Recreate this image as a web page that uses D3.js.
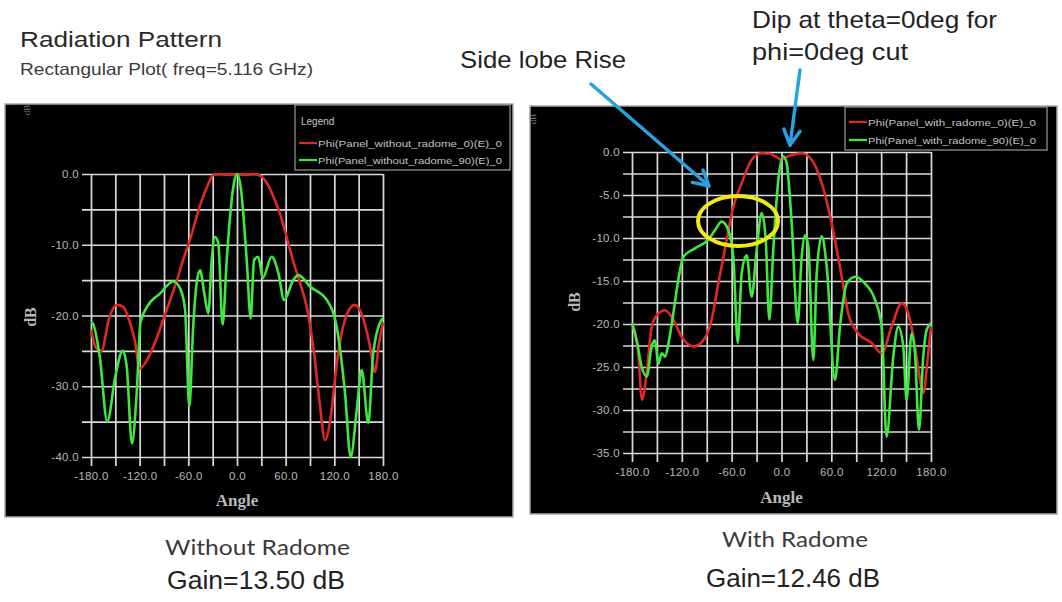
<!DOCTYPE html>
<html>
<head>
<meta charset="utf-8">
<script src="https://cdn.jsdelivr.net/npm/d3@7"></script>
<style>
  body { margin: 0; background: #fff; }
  svg { display: block; }
</style>
</head>
<body>
<div class="chart"></div>
<script>
(function() {
  'use strict';

  const WIDTH = 1062;
  const HEIGHT = 602;

  // Tick values
  const ANGLE_TICKS = [-180, -120, -60, 0, 60, 120, 180];
  const ANGLE_GRID = [-180, -150, -120, -90, -60, -30, 0, 30, 60, 90, 120, 150, 180];
  const LEFT_DB_TICKS = [0, -10, -20, -30, -40];
  const LEFT_DB_GRID = [0, -5, -10, -15, -20, -25, -30, -35, -40];
  const RIGHT_DB_TICKS = [0, -5, -10, -15, -20, -25, -30, -35];
  const RIGHT_DB_GRID = [0, -2.5, -5, -7.5, -10, -12.5, -15, -17.5, -20, -22.5, -25, -27.5, -30, -32.5, -35];

  // Without radome, phi=0 cut (red)
  const LEFT_RED_ANGLE = [-180, -174, -167, -158, -148, -140, -132, -126, -120, -111, -100, -91, -82, -74, -66, -58, -46, -36, -29, -20, -10, 0, 10, 20, 26, 37, 45, 53, 61, 69, 78, 86, 94, 102, 108.5, 115, 123, 129, 135, 145, 155, 164, 170, 175, 180];
  const LEFT_RED_DB = [-22, -24.5, -25, -20.5, -18.5, -18.8, -21, -23.5, -27.5, -26.3, -23.5, -20.6, -17.7, -15, -12, -9.3, -4.6, -1.6, -0.1, 0, -0.1, 0, -0.1, 0, -0.1, -1.3, -3.2, -5.6, -8.8, -12.2, -15.5, -18.8, -24.4, -32.4, -37.6, -34.8, -26.8, -22.5, -20, -18.5, -20.2, -24.4, -28, -24, -21];

  // Without radome, phi=90 cut (green)
  const LEFT_GREEN_ANGLE = [-180, -178, -169, -160, -150, -141, -136, -129.5, -123.7, -119, -111, -95, -78.5, -70, -64, -58.8, -54, -49.7, -45.6, -40.3, -35.4, -31.2, -27.1, -23.1, -17.7, -12.7, -4.5, 0, 4.5, 12, 16.9, 21, 26.3, 31.7, 42.8, 51, 58, 69.4, 75.6, 90, 110.6, 122.9, 133.2, 140.1, 147.6, 153.7, 161.9, 168, 178.4, 180];
  const LEFT_GREEN_DB = [-21, -21.1, -26, -35, -28.6, -25, -27.2, -38.1, -31, -21, -18.8, -16.9, -15.2, -16.2, -19.2, -32.9, -21.6, -15.4, -13.6, -16.9, -19.7, -12.2, -8.9, -9.8, -21.3, -12.2, -1.8, 0, -1.8, -12.2, -20.4, -12.2, -11.7, -14.7, -11.7, -14, -17.8, -15, -14.3, -15.9, -17.8, -21.6, -31, -40, -33.4, -27.7, -35.2, -25.3, -20.6, -20.4];

  // With radome, phi=0 cut (red)
  const RIGHT_RED_ANGLE = [-180, -172.4, -168, -162.3, -156.3, -148.3, -140.3, -130.3, -120.2, -106, -94.2, -84.1, -76.1, -66, -58, -47.9, -35.9, -24, -14, -6, 0, 6, 12.3, 24.3, 36.3, 48.4, 60.4, 72.5, 80.4, 92.5, 108.6, 120.6, 132.6, 144.7, 152.7, 160.7, 166, 171, 176, 180];
  const RIGHT_RED_DB = [-19.9, -23.4, -28.8, -25.7, -20.3, -18.8, -18.4, -19.5, -21.5, -22.6, -21.9, -19.5, -15.3, -10.2, -6.4, -3.6, -0.9, -0.15, -0.2, -0.6, -0.9, -0.6, -0.35, -0.15, -0.9, -3.6, -8.3, -14.5, -18.8, -21.1, -22.2, -23.4, -20.3, -17.6, -18.8, -22.6, -26, -28, -24, -20.3];

  // With radome, phi=90 cut (green)
  const RIGHT_GREEN_ANGLE = [-180, -174.4, -168.3, -162.3, -156.3, -152.3, -148.3, -144.2, -140, -136, -130.3, -124.3, -118.2, -104.2, -88.1, -80.1, -72, -64, -58, -52.7, -47.9, -41.9, -35.9, -29.9, -23.8, -19, -14.7, -9.9, -3.9, 2.2, 6.2, 12.3, 19.5, 24.3, 28.3, 32.3, 38.3, 42.4, 48.4, 54.4, 64.4, 70.4, 78.5, 88.5, 100.5, 112.6, 120.6, 126.5, 134.6, 140.6, 146.6, 150.6, 156.6, 160.7, 165.5, 170.7, 174.7, 180];
  const RIGHT_GREEN_DB = [-19.9, -21.9, -25, -26.1, -22.6, -21.9, -24.6, -23.4, -23.8, -22.2, -18.8, -14.9, -12.2, -11.2, -10.2, -9.1, -8.1, -9.1, -12.2, -22.2, -14.1, -12, -16.8, -11.4, -7.1, -10.2, -19.5, -11.4, -3.3, -0.5, -1.3, -8.3, -19.9, -12.2, -9.7, -11, -24.2, -14.1, -9.8, -13.3, -26.5, -20.3, -15.3, -14.5, -15.3, -17.2, -20.3, -33.1, -23.8, -20.3, -22.6, -28.8, -21.1, -23.4, -32.3, -23.8, -20.7, -19.9];

  const RED = '#e02828';
  const GREEN = '#3fe83f';
  const GRID = '#dadada';
  const LABEL = '#b8b8b8';
  const BLUE = '#27a2df';

  const svg = d3.select('.chart')
    .append('svg')
    .attr('width', WIDTH)
    .attr('height', HEIGHT);

  const fmt = function(d) { return d.toFixed(1); };

  function zip(a, b) {
    return a.map(function(v, i) { return [v, b[i]]; });
  }

  function draw_panel(p) {
    const g = svg.append('g');

    g.append('rect')
      .attr('x', p.box[0]).attr('y', p.box[1])
      .attr('width', p.box[2] - p.box[0]).attr('height', p.box[3] - p.box[1])
      .attr('fill', '#000')
      .attr('stroke', '#a8a8a8')
      .attr('stroke-width', 1.5);

    const x = d3.scaleLinear().domain([-180, 180]).range([p.left, p.right]);
    const y = d3.scaleLinear().domain([p.dbMin, 0]).range([p.bottom, p.top]);

    // Vertical grid lines (run a little below the axis like ticks)
    const gx = g.append('g')
      .attr('transform', 'translate(0,' + (p.bottom + 9) + ')')
      .call(d3.axisBottom(x).tickValues(ANGLE_GRID).tickSize(-(p.bottom - p.top + 9)).tickFormat(''));
    gx.select('.domain').remove();
    gx.selectAll('line').attr('stroke', GRID).attr('stroke-width', 1.7);

    // Horizontal grid lines
    const gy = g.append('g')
      .attr('transform', 'translate(' + (p.left - 9) + ',0)')
      .call(d3.axisLeft(y).tickValues(p.dbGrid).tickSize(-(p.right - p.left + 9)).tickFormat(''));
    gy.select('.domain').remove();
    gy.selectAll('line').attr('stroke', GRID).attr('stroke-width', 1.7);

    // Tick labels
    const lx = g.append('g')
      .attr('transform', 'translate(0,' + p.bottom + ')')
      .style('color', LABEL)
      .call(d3.axisBottom(x).tickValues(ANGLE_TICKS).tickSize(0).tickPadding(15).tickFormat(fmt));
    lx.select('.domain').remove();
    lx.selectAll('text').attr('font-family', 'Liberation Sans, Arial, sans-serif')
      .attr('font-size', 11.5).attr('letter-spacing', 0.3);

    const ly = g.append('g')
      .attr('transform', 'translate(' + p.left + ',0)')
      .style('color', LABEL)
      .call(d3.axisLeft(y).tickValues(p.dbTicks).tickSize(0).tickPadding(12).tickFormat(fmt));
    ly.select('.domain').remove();
    ly.selectAll('text').attr('font-family', 'Liberation Sans, Arial, sans-serif')
      .attr('font-size', 11.5).attr('letter-spacing', 0.3);

    // Axis titles
    g.append('text')
      .attr('x', (p.left + p.right) / 2).attr('y', p.angleY)
      .attr('text-anchor', 'middle')
      .attr('font-family', 'Liberation Serif, Times New Roman, serif')
      .attr('font-weight', 'bold')
      .attr('font-size', 17)
      .attr('fill', LABEL)
      .text('Angle');

    g.append('text')
      .attr('transform', 'translate(' + p.dbX + ',' + p.dbY + ') rotate(-90)')
      .attr('text-anchor', 'middle')
      .attr('font-family', 'Liberation Serif, Times New Roman, serif')
      .attr('font-weight', 'bold')
      .attr('font-size', 16)
      .attr('fill', LABEL)
      .text('dB');

    g.append('text')
      .attr('transform', 'translate(' + p.cornerX + ',' + p.cornerY + ') rotate(-90)')
      .attr('text-anchor', 'middle')
      .attr('font-family', 'Liberation Serif, Times New Roman, serif')
      .attr('font-size', 9)
      .attr('fill', '#8a8a8a')
      .text('dB');

    // Curves
    const line = d3.line()
      .x(function(d) { return x(d[0]); })
      .y(function(d) { return y(d[1]); })
      .curve(d3.curveMonotoneX);

    p.series.forEach(function(s) {
      g.append('path')
        .attr('d', line(zip(s.angle, s.db)))
        .attr('fill', 'none')
        .attr('stroke', s.color)
        .attr('stroke-width', 2.6)
        .attr('stroke-linejoin', 'round');
    });

    // Legend
    const L = p.legend;
    g.append('rect')
      .attr('x', L.x0).attr('y', L.y0)
      .attr('width', L.x1 - L.x0).attr('height', L.y1 - L.y0)
      .attr('fill', '#000')
      .attr('stroke', '#9a9a9a')
      .attr('stroke-width', 1.2);
    if (L.title) {
      g.append('text')
        .attr('x', L.x0 + 6).attr('y', L.titleY)
        .attr('font-family', 'Liberation Sans, Arial, sans-serif')
        .attr('font-size', 10)
        .attr('fill', '#c4c4c4')
        .text(L.title);
    }
    p.series.forEach(function(s, i) {
      const yy = L.rowY[i];
      g.append('line')
        .attr('x1', L.x0 + 4).attr('x2', L.x0 + 22)
        .attr('y1', yy).attr('y2', yy)
        .attr('stroke', s.color).attr('stroke-width', 2.2);
      g.append('text')
        .attr('x', L.x0 + 23).attr('y', yy + 3.5)
        .attr('font-family', 'Liberation Sans, Arial, sans-serif')
        .attr('font-size', 9.5)
        .attr('fill', '#c4c4c4')
        .attr('textLength', L.textLen)
        .attr('lengthAdjust', 'spacingAndGlyphs')
        .text(s.name);
    });
  }

  draw_panel({
    box: [5, 104, 513, 517],
    left: 91, right: 383, top: 174, bottom: 457,
    dbMin: -40, dbTicks: LEFT_DB_TICKS, dbGrid: LEFT_DB_GRID,
    angleY: 506, dbX: 36, dbY: 317, cornerX: 30, cornerY: 110,
    legend: { x0: 295, y0: 105, x1: 510, y1: 170, title: 'Legend', titleY: 125, rowY: [143, 160], textLen: 184 },
    series: [
      { name: 'Phi(Panel_without_radome_0)(E)_0', angle: LEFT_RED_ANGLE, db: LEFT_RED_DB, color: RED },
      { name: 'Phi(Panel_without_radome_90)(E)_0', angle: LEFT_GREEN_ANGLE, db: LEFT_GREEN_DB, color: GREEN }
    ]
  });

  draw_panel({
    box: [530, 106, 1057, 514],
    left: 632, right: 931, top: 152, bottom: 453,
    dbMin: -35, dbTicks: RIGHT_DB_TICKS, dbGrid: RIGHT_DB_GRID,
    angleY: 503, dbX: 580, dbY: 302, cornerX: 536, cornerY: 119,
    legend: { x0: 845, y0: 107, x1: 1047, y1: 150, title: null, rowY: [122, 140], textLen: 168 },
    series: [
      { name: 'Phi(Panel_with_radome_0)(E)_0', angle: RIGHT_RED_ANGLE, db: RIGHT_RED_DB, color: RED },
      { name: 'Phi(Panel_with_radome_90)(E)_0', angle: RIGHT_GREEN_ANGLE, db: RIGHT_GREEN_DB, color: GREEN }
    ]
  });

  // Highlight ellipse around the side lobes
  svg.append('ellipse')
    .attr('cx', 738).attr('cy', 221)
    .attr('rx', 40).attr('ry', 25)
    .attr('fill', 'none')
    .attr('stroke', '#f0e81a')
    .attr('stroke-width', 4);

  // Blue arrows
  function arrow(x1, y1, x2, y2) {
    const a = Math.atan2(y2 - y1, x2 - x1);
    const len = 17, spread = 0.5;
    svg.append('line')
      .attr('x1', x1).attr('y1', y1).attr('x2', x2).attr('y2', y2)
      .attr('stroke', BLUE).attr('stroke-width', 3.5).attr('stroke-linecap', 'round');
    svg.append('path')
      .attr('d', 'M' + (x2 - len * Math.cos(a - spread)) + ',' + (y2 - len * Math.sin(a - spread)) +
        'L' + x2 + ',' + y2 +
        'L' + (x2 - len * Math.cos(a + spread)) + ',' + (y2 - len * Math.sin(a + spread)))
      .attr('fill', 'none')
      .attr('stroke', BLUE).attr('stroke-width', 3.5)
      .attr('stroke-linecap', 'round').attr('stroke-linejoin', 'round');
  }
  arrow(591, 84, 709, 186);
  arrow(800, 70, 790, 145);

  // Page texts (narrow look: large size squeezed to measured widths)
  const texts = [
    { t: 'Radiation Pattern', x: 20, y: 47, size: 22, len: 202, fill: '#2a2a2a' },
    { t: 'Rectangular Plot( freq=5.116 GHz)', x: 20, y: 75, size: 16.5, len: 293, fill: '#3a3a3a' },
    { t: 'Side lobe Rise', x: 460, y: 68, size: 24, len: 166, fill: '#222' },
    { t: 'Dip at theta=0deg for', x: 752, y: 28, size: 24, len: 245, fill: '#222' },
    { t: 'phi=0deg cut', x: 752, y: 60, size: 24, len: 156, fill: '#222' },
    { t: 'Gain=13.50 dB', x: 167, y: 589, size: 25, len: 178, fill: '#222' },
    { t: 'Gain=12.46 dB', x: 706, y: 587, size: 25, len: 174, fill: '#222' }
  ];
  texts.forEach(function(d) {
    svg.append('text')
      .attr('x', d.x).attr('y', d.y)
      .attr('font-family', 'Liberation Sans, Arial, sans-serif')
      .attr('font-size', d.size)
      .attr('fill', d.fill)
      .attr('textLength', d.len)
      .attr('lengthAdjust', 'spacingAndGlyphs')
      .text(d.t);
  });

  const captions = [
    { t: 'Without Radome', x: 165, y: 555, len: 185 },
    { t: 'With Radome', x: 722, y: 547, len: 146 }
  ];
  captions.forEach(function(d) {
    svg.append('text')
      .attr('x', d.x).attr('y', d.y)
      .attr('font-family', 'Lato, Open Sans, sans-serif')
      .attr('font-size', 22)
      .attr('fill', '#3a3a3a')
      .attr('textLength', d.len)
      .attr('lengthAdjust', 'spacingAndGlyphs')
      .text(d.t);
  });
})();
</script>
</body>
</html>
